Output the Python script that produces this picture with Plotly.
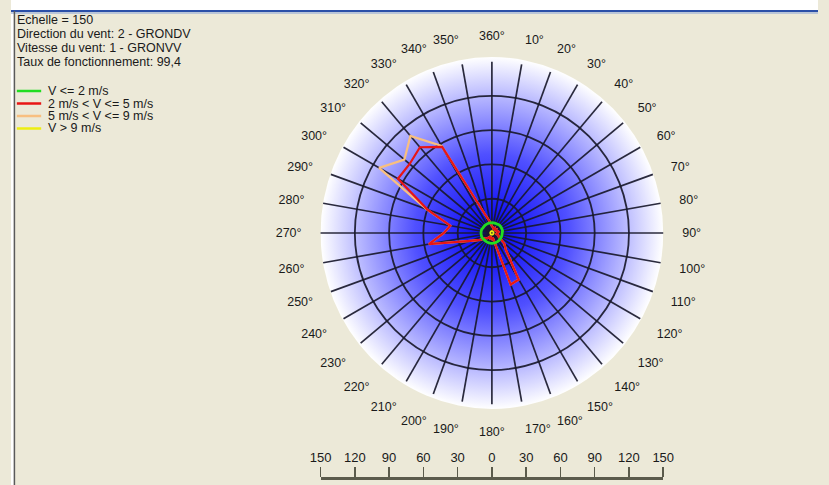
import base64
import plotly.graph_objects as go

# ---------------- data ----------------
directions = list(range(0, 360, 10))
angle_labels = ["360°"] + [f"{d}°" for d in range(10, 360, 10)]

v_le2 = [9, 9, 9, 9, 9.5, 9.5, 9.5, 9.5, 9.5, 9, 9, 9,
         9, 9, 9, 9, 9, 9, 9, 9, 9, 9, 9, 9,
         9.5, 9.5, 9.5, 9.5, 9.5, 9.5, 9, 9, 9, 9, 9, 9]
v_2_5 = [6, 5, 4, 5, 4, 5, 4, 5, 6, 5, 4, 6,
         7, 14, 19, 47, 48, 4, 5, 4, 5, 4, 6, 7,
         12, 20, 56, 42, 37, 60, 95, 94, 98, 87, 17, 10]
v_5_9 = [6, 5, 4, 5, 4, 5, 4, 5, 6, 5, 4, 6,
         7, 14, 19, 47, 48, 4, 5, 4, 5, 4, 6, 7,
         12, 20, 56, 42, 37, 61, 114, 100, 111, 88, 17, 10]
v_gt9 = [2, 1, 2, 1, 2, 1, 2, 1, 2, 1, 2, 1,
         2, 1, 2, 1, 2, 1, 2, 1, 2, 1, 2, 1,
         2, 1, 2, 1, 2, 1, 2, 1, 2, 1, 2, 1]

series_names = ["V <= 2 m/s", "2 m/s < V <= 5 m/s", "5 m/s < V <= 9 m/s", "V > 9 m/s"]
series_values = [v_le2, v_2_5, v_5_9, v_gt9]
series_colors = ["#22dd22", "#e81515", "#f8bf80", "#eeee10"]

header_lines = ["Echelle = 150", "Direction du vent: 2 - GRONDV",
                "Vitesse du vent: 1 - GRONVV", "Taux de fonctionnement: 99,4"]

scale_ticks = [-150, -120, -90, -60, -30, 0, 30, 60, 90, 120, 150]
scale_labels = [str(abs(v)) for v in scale_ticks]
ring_values = [30, 60, 90, 120]
r_max = 150

# ---------------- geometry ----------------
W, H = 829, 485
cx, cy, rad = 494, 233, 176
FONT = "Liberation Sans, Arial, sans-serif"
BG = "#ECE9D8"
TXT = "#1a1a1a"
GRID = "rgba(25,25,45,0.92)"

dom_x = [(cx - rad) / W, (cx + rad) / W]
dom_y = [1 - (cy + rad) / H, 1 - (cy - rad) / H]

fig = go.Figure()

# draw order: widest class first, green last (on top)
draw_order = [3, 2, 1, 0]
for i in draw_order:
    vals = series_values[i]
    fig.add_trace(go.Scatterpolar(
        r=vals + [vals[0]],
        theta=directions + [directions[0]],
        mode="lines",
        line=dict(color=series_colors[i], width=2.8 if i == 0 else 2.2),
        name=series_names[i],
        showlegend=False,
        hoverinfo="skip",
    ))

# invisible trace to hold the scale-bar axis
fig.add_trace(go.Scatter(
    x=scale_ticks, y=[0] * len(scale_ticks), mode="markers",
    marker=dict(opacity=0), showlegend=False, hoverinfo="skip",
    xaxis="x", yaxis="y",
))

# radial gradient disc background
svg = (
    '<svg xmlns="http://www.w3.org/2000/svg" width="400" height="400" viewBox="0 0 400 400">'
    '<defs><radialGradient id="g" cx="50%" cy="50%" r="50%">'
    '<stop offset="0" stop-color="#0000f0"/>'
    '<stop offset="0.45" stop-color="#5050ff"/>'
    '<stop offset="1" stop-color="#ffffff"/>'
    '</radialGradient></defs>'
    '<circle cx="200" cy="200" r="200" fill="url(#g)"/></svg>'
)
src = "data:image/svg+xml;base64," + base64.b64encode(svg.encode()).decode()
fig.add_layout_image(dict(
    source=src, xref="paper", yref="paper",
    x=dom_x[0], y=dom_y[1], sizex=dom_x[1] - dom_x[0], sizey=dom_y[1] - dom_y[0],
    xanchor="left", yanchor="top", sizing="stretch", layer="below",
))

annotations = []
y_head = [20, 34, 48, 62]
for txt, yy in zip(header_lines, y_head):
    annotations.append(dict(
        text=txt, xref="paper", yref="paper", x=4 / W, y=1 - yy / H,
        xanchor="left", yanchor="middle", showarrow=False,
        font=dict(family=FONT, size=12.5, color=TXT),
    ))

shapes = [
    dict(type="rect", xref="paper", yref="paper", x0=0, x1=1, y0=1 - 10 / H, y1=1,
         fillcolor="white", line=dict(width=0), layer="above"),
    dict(type="rect", xref="paper", yref="paper", x0=0, x1=3 / W, y0=0, y1=1,
         fillcolor="white", line=dict(width=0), layer="above"),
    dict(type="line", xref="paper", yref="paper", x0=0, x1=1, y0=1 - 11 / H, y1=1 - 11 / H,
         line=dict(color="#2a4fa8", width=2)),
    dict(type="line", xref="paper", yref="paper", x0=0, x1=1, y0=1 - 13 / H, y1=1 - 13 / H,
         line=dict(color="#a9b8d8", width=1.5)),
    dict(type="line", xref="paper", yref="paper", x0=3.5 / W, x1=3.5 / W, y0=0, y1=1 - 11 / H,
         line=dict(color="#5a5a5a", width=1.5)),
]

y_leg = [91, 103.5, 116, 128.5]
for name, col, yy in zip(series_names, series_colors, y_leg):
    shapes.append(dict(type="line", xref="paper", yref="paper",
                       x0=6 / W, x1=31 / W, y0=1 - yy / H, y1=1 - yy / H,
                       line=dict(color=col, width=2.5)))
    annotations.append(dict(
        text=name, xref="paper", yref="paper", x=36 / W, y=1 - yy / H,
        xanchor="left", yanchor="middle", showarrow=False,
        font=dict(family=FONT, size=12.5, color=TXT),
    ))

fig.update_layout(
    width=W, height=H,
    margin=dict(l=0, r=0, t=0, b=0),
    paper_bgcolor=BG, plot_bgcolor="rgba(0,0,0,0)",
    showlegend=False,
    polar=dict(
        domain=dict(x=dom_x, y=dom_y),
        bgcolor="rgba(0,0,0,0)",
        radialaxis=dict(
            range=[0, r_max], tickvals=ring_values, showticklabels=False,
            ticks="", showline=False, gridcolor=GRID, gridwidth=1.8,
        ),
        angularaxis=dict(
            rotation=90, direction="clockwise",
            tickvals=directions, ticktext=angle_labels,
            showline=False, gridcolor=GRID, gridwidth=1.7,
            ticks="outside", ticklen=16, tickcolor="rgba(0,0,0,0)",
            tickfont=dict(family=FONT, size=12.5, color=TXT),
        ),
    ),
    xaxis=dict(
        domain=dom_x, range=[scale_ticks[0], scale_ticks[-1]],
        side="top", anchor="free", position=1 - 478 / H,
        showgrid=False, zeroline=False, showline=True,
        linecolor="#5b5b4c", linewidth=2.5,
        ticks="outside", ticklen=10, tickwidth=1.5, tickcolor="#5b5b4c",
        tickvals=scale_ticks, ticktext=scale_labels,
        tickfont=dict(family=FONT, size=13, color=TXT),
        fixedrange=True,
    ),
    yaxis=dict(domain=[0, 0.01], visible=False, range=[-1, 1], fixedrange=True),
    annotations=annotations,
    shapes=shapes,
)

fig.write_html(
    "out.html",
    config={"displayModeBar": False, "staticPlot": True},
    post_script="document.body.style.margin='0';document.body.style.overflow='hidden';",
)
